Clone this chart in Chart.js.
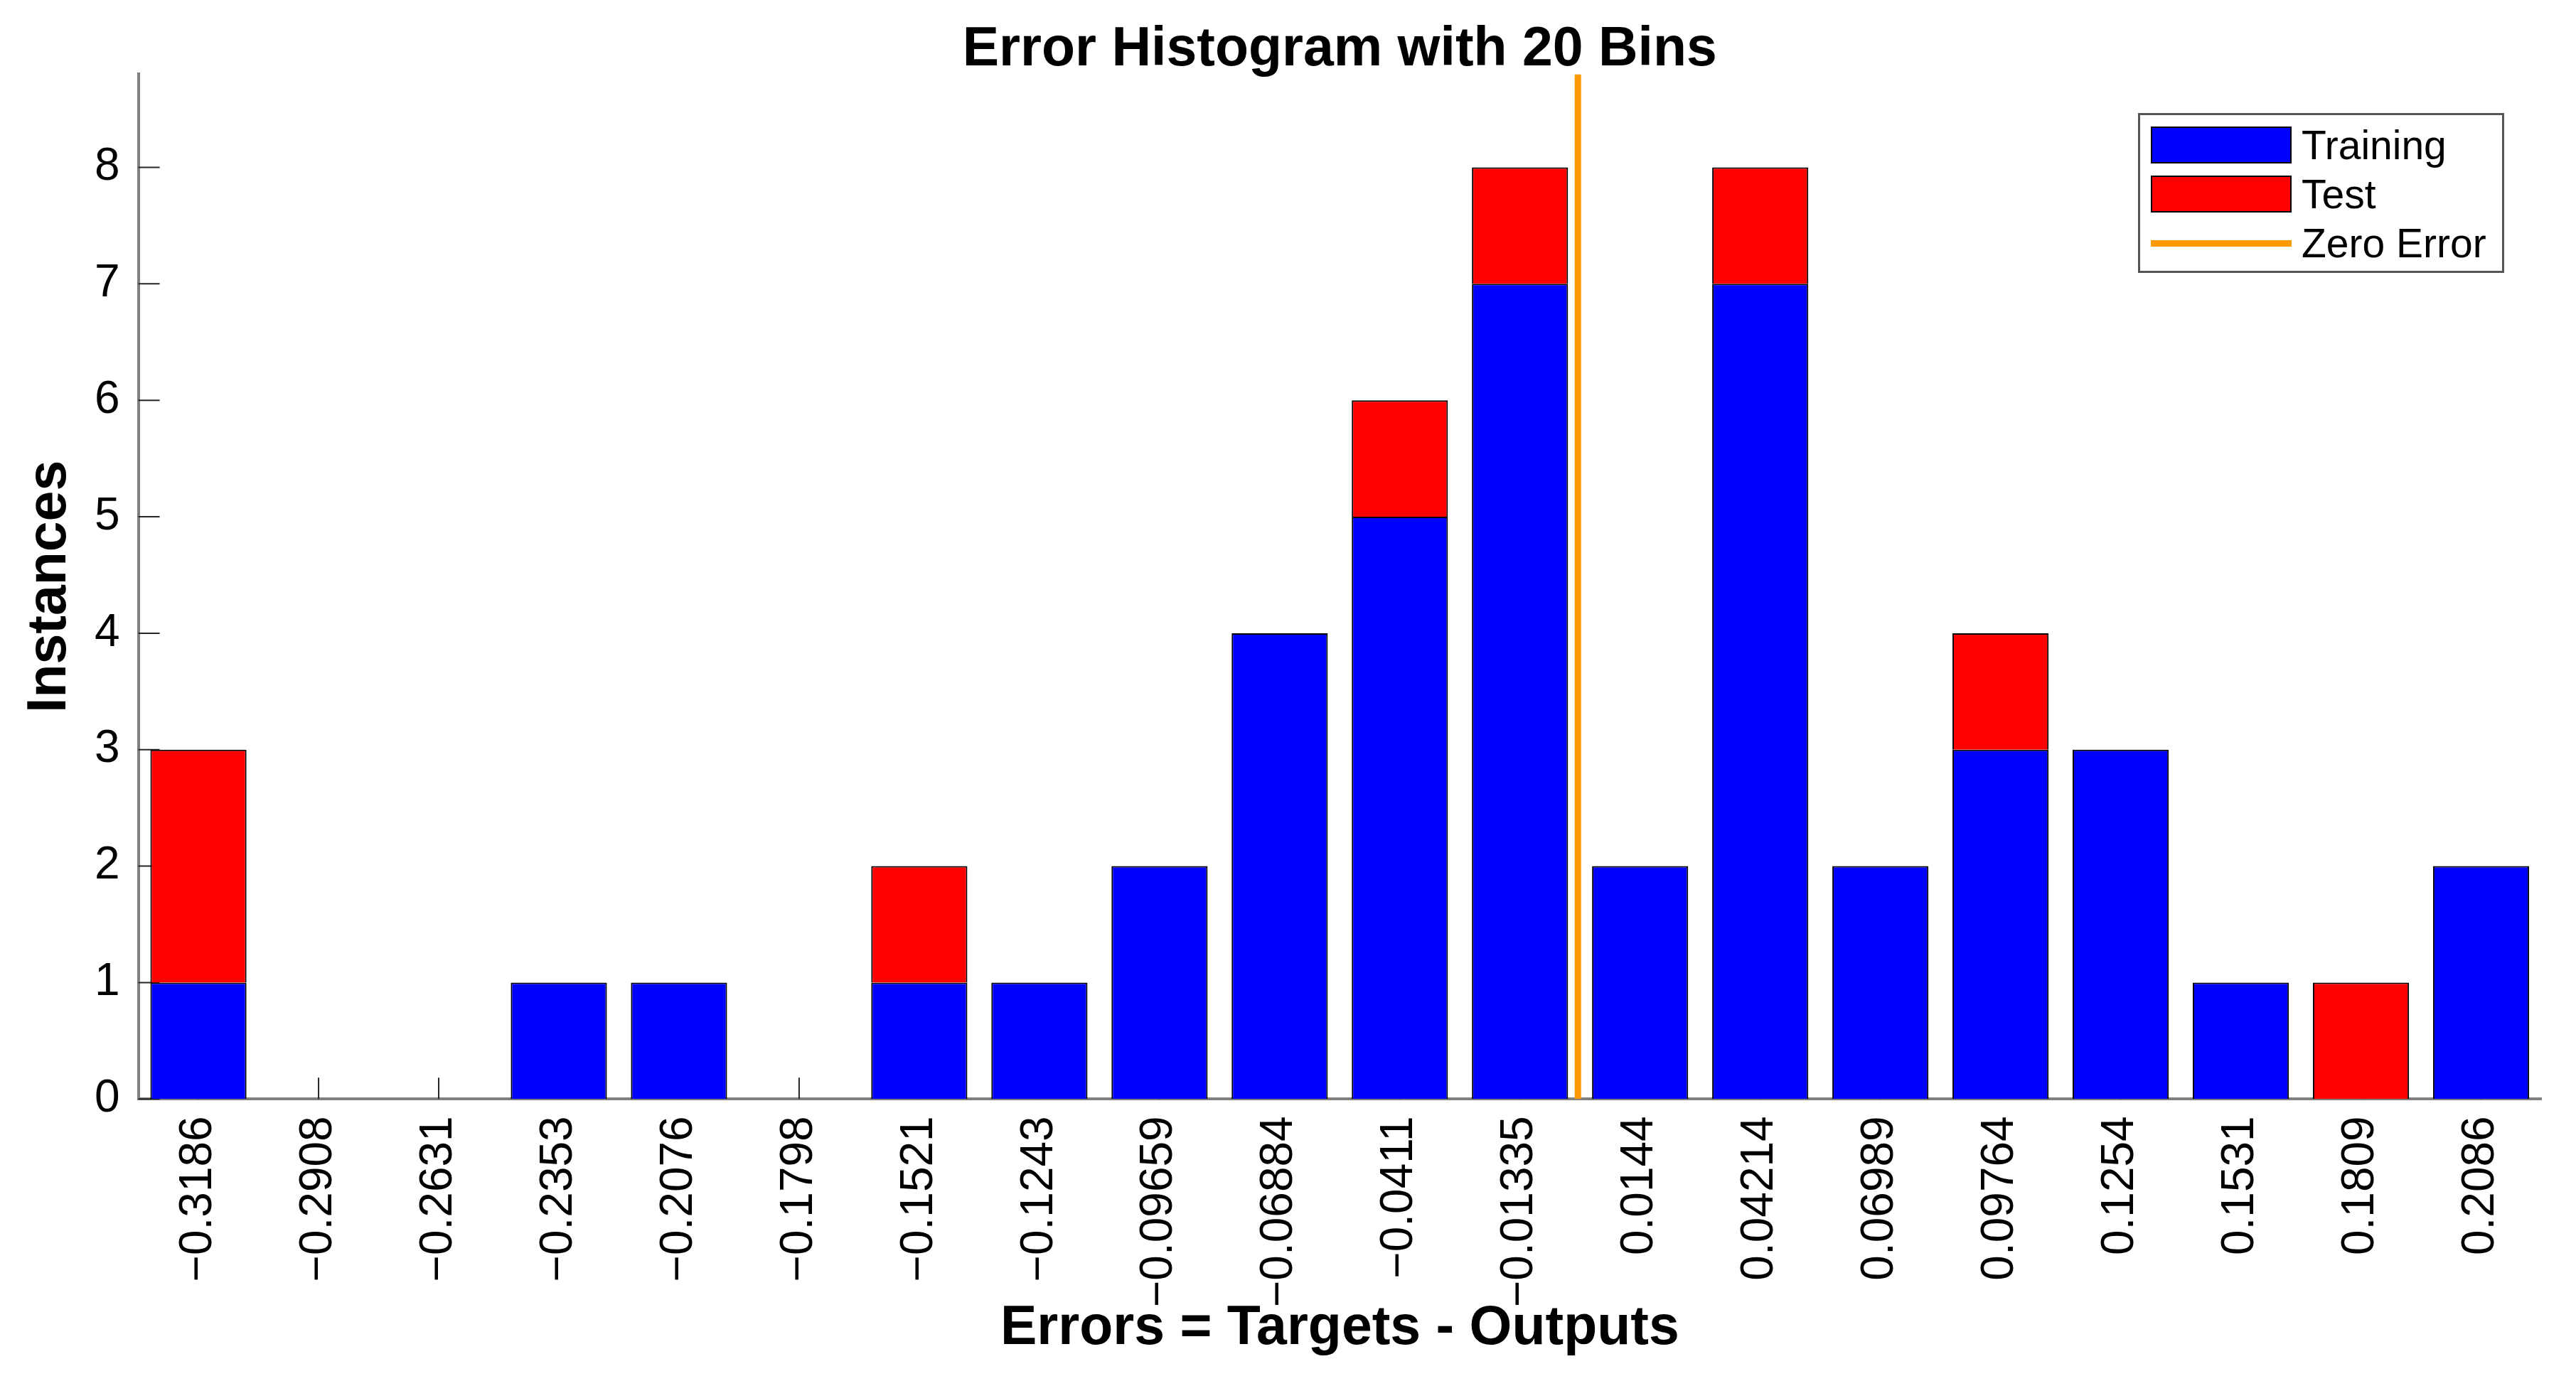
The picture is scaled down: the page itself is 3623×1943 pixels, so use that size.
<!DOCTYPE html>
<html>
<head>
<meta charset="utf-8">
<title>Error Histogram with 20 Bins</title>
<script src="https://cdn.jsdelivr.net/npm/chart.js@4.4.1/dist/chart.umd.min.js"></script>
<style>
  body { margin: 0; background: #fff; }
  .chart-wrap { position: relative; width: 3623px; height: 1943px; }
  #errLegend {
    position: absolute; left: 3007px; top: 159px;
    width: 515px; height: 225px;
    border: 3px solid #555; background: #fff;
    padding: 16px 0 0 15px; box-sizing: border-box;
    font-family: 'Liberation Sans', Arial, sans-serif;
  }
  .legend-item { display: flex; align-items: center; height: 52px; margin-bottom: 17px; }
  .legend-swatch { width: 198px; height: 52px; border: 2px solid #000; box-sizing: border-box; }
  .legend-mark { width: 198px; height: 52px; display: flex; align-items: center; }
  .legend-line { width: 198px; height: 9px; }
  .legend-label { margin-left: 14px; font-size: 57px; line-height: 52px; color: #000; }
</style>
</head>
<body>
<div class="chart-wrap">
  <canvas id="errorHistChart"></canvas>
  <div id="errLegend"></div>
</div>
<script>
// Données de l'histogramme (centres des classes)
const binCenters = [-0.3186, -0.2908, -0.2631, -0.2353, -0.2076, -0.1798, -0.1521, -0.1243,
  -0.09659, -0.06884, -0.0411, -0.01335, 0.0144, 0.04214, 0.06989, 0.09764,
  0.1254, 0.1531, 0.1809, 0.2086];
const trainingCounts = [1, 0, 0, 1, 1, 0, 1, 1, 2, 4, 5, 7, 2, 7, 2, 3, 3, 1, 0, 2];
const testCounts     = [2, 0, 0, 0, 0, 0, 1, 0, 0, 0, 1, 1, 0, 1, 0, 1, 0, 0, 1, 0];
const zeroError = 0;
const yMax = 8.8;

const colors = {
  training: '#0000ff',
  test: '#ff0000',
  zero: '#ff9900',
  edge: '#000000',
  axis: '#808080',
  tick: '#262626'
};
const fontFamily = "'Liberation Sans', Arial, Helvetica, sans-serif";

// bornes de l'axe linéaire invisible (pour la ligne d'erreur nulle)
const binWidth = (binCenters[binCenters.length - 1] - binCenters[0]) / (binCenters.length - 1);
const edgeMin = binCenters[0] - binWidth / 2;
const edgeMax = binCenters[binCenters.length - 1] + binWidth / 2;

const binLabels = binCenters.map(v => String(v).replace('-', '\u2212'));

// petites graduations vers l'intérieur, style MATLAB
const inwardTicks = {
  id: 'inwardTicks',
  beforeDatasetsDraw(chart) {
    const { ctx, chartArea, scales } = chart;
    const len = 30;
    ctx.save();
    ctx.strokeStyle = colors.tick;
    ctx.lineWidth = 2;
    ctx.beginPath();
    scales.x.ticks.forEach((t, i) => {
      const px = scales.x.getPixelForTick(i);
      ctx.moveTo(px, chartArea.bottom);
      ctx.lineTo(px, chartArea.bottom - len);
    });
    scales.y.ticks.forEach((t, i) => {
      const py = scales.y.getPixelForTick(i);
      ctx.moveTo(chartArea.left, py);
      ctx.lineTo(chartArea.left + len, py);
    });
    ctx.stroke();
    ctx.restore();
  }
};

const ctx = document.getElementById('errorHistChart');
const errorChart = new Chart(ctx, {
  type: 'bar',
  data: {
    labels: binLabels,
    datasets: [
      {
        label: 'Training',
        data: trainingCounts,
        backgroundColor: colors.training,
        borderColor: colors.edge,
        borderWidth: 2,
        grouped: false,
        categoryPercentage: 0.8,
        barPercentage: 1.0,
        order: 1
      },
      {
        label: 'Test',
        data: testCounts,
        backgroundColor: colors.test,
        borderColor: colors.edge,
        borderWidth: 2,
        grouped: false,
        categoryPercentage: 0.8,
        barPercentage: 1.0,
        order: 1
      },
      {
        type: 'line',
        label: 'Zero Error',
        xAxisID: 'xz',
        data: [{ x: zeroError, y: 0 }, { x: zeroError, y: yMax }],
        borderColor: colors.zero,
        borderWidth: 9,
        pointRadius: 0,
        order: 0
      }
    ]
  },
  options: {
    responsive: true,
    maintainAspectRatio: false,
    animation: false,
    layout: { padding: { left: 0, right: 49, top: 0, bottom: 0 } },
    plugins: {
      legend: { display: false },
      tooltip: { enabled: false },
      title: {
        display: true,
        fullSize: false,
        text: 'Error Histogram with 20 Bins',
        color: '#000',
        font: { family: fontFamily, size: 77, weight: 'bold', lineHeight: 0.85 },
        padding: { top: 38, bottom: 1 }
      }
    },
    scales: {
      x: {
        stacked: true,
        z: 1,
        grid: { display: false, drawTicks: false },
        border: { display: true, color: colors.axis, width: 4 },
        ticks: {
          color: '#000',
          font: { family: fontFamily, size: 64 },
          padding: 24,
          minRotation: 90,
          maxRotation: 90,
          autoSkip: false
        },
        title: {
          display: true,
          text: 'Errors = Targets - Outputs',
          color: '#000',
          font: { family: fontFamily, size: 77, weight: 'bold', lineHeight: 1 },
          padding: { top: -32, bottom: 35 }
        }
      },
      // axe linéaire sans rendu visible, aligné sur la zone du graphique
      xz: {
        type: 'linear',
        axis: 'x',
        position: 'bottom',
        display: true,
        offset: false,
        min: edgeMin,
        max: edgeMax,
        grid: { display: false, drawTicks: false, offset: false },
        border: { display: false },
        ticks: { display: false }
      },
      y: {
        stacked: true,
        min: 0,
        max: yMax,
        grid: { display: false, drawTicks: false },
        border: { display: true, color: colors.axis, width: 4 },
        ticks: {
          stepSize: 1,
          includeBounds: false,
          color: '#000',
          font: { family: fontFamily, size: 64 },
          padding: 26
        },
        title: {
          display: true,
          text: 'Instances',
          color: '#000',
          font: { family: fontFamily, size: 77, weight: 'bold', lineHeight: 1 },
          padding: { top: 32, bottom: -2 }
        }
      }
    }
  },
  plugins: [inwardTicks]
});

// Légende en HTML, construite depuis les jeux de données
function createLegend(containerId, chart) {
  const container = document.getElementById(containerId);
  if (!container) return;
  chart.data.datasets.forEach(dataset => {
    const item = document.createElement('div');
    item.className = 'legend-item';
    const mark = dataset.type === 'line'
      ? `<div class="legend-mark"><div class="legend-line" style="background:${dataset.borderColor}"></div></div>`
      : `<div class="legend-swatch" style="background:${dataset.backgroundColor}"></div>`;
    item.innerHTML = `${mark}<span class="legend-label">${dataset.label}</span>`;
    container.appendChild(item);
  });
}
createLegend('errLegend', errorChart);
</script>
</body>
</html>
